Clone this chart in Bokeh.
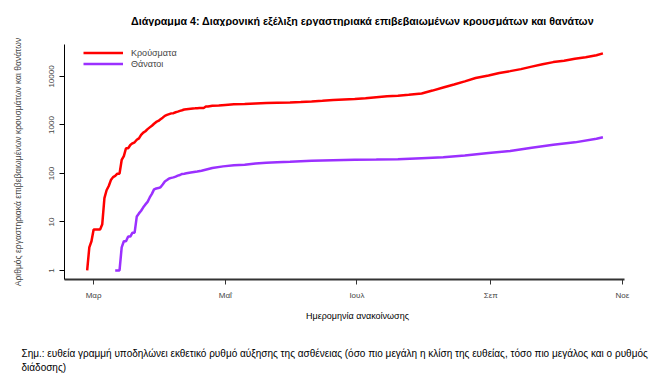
import pandas as pd
from bokeh.plotting import figure
from bokeh.layouts import column
from bokeh.models import Range1d, FixedTicker, Legend, LegendItem, Label
from bokeh.embed import file_html
from bokeh.resources import INLINE

# ---- data ----
case_dates = [
    "2020-02-27", "2020-02-28", "2020-02-29", "2020-03-01", "2020-03-02", "2020-03-03",
    "2020-03-04", "2020-03-05", "2020-03-06", "2020-03-07", "2020-03-08", "2020-03-09",
    "2020-03-10", "2020-03-11", "2020-03-12", "2020-03-13", "2020-03-14", "2020-03-15",
    "2020-03-16", "2020-03-17", "2020-03-18", "2020-03-19", "2020-03-20", "2020-03-21",
    "2020-03-22", "2020-03-23", "2020-03-24", "2020-03-25", "2020-03-26", "2020-03-27",
    "2020-03-28", "2020-03-29", "2020-03-30", "2020-03-31", "2020-04-01", "2020-04-02",
    "2020-04-03", "2020-04-04", "2020-04-05", "2020-04-06", "2020-04-07", "2020-04-08",
    "2020-04-09", "2020-04-10", "2020-04-11", "2020-04-12", "2020-04-13", "2020-04-14",
    "2020-04-15", "2020-04-16", "2020-04-17", "2020-04-18", "2020-04-19", "2020-04-21",
    "2020-04-22", "2020-04-23", "2020-04-25", "2020-04-28", "2020-05-01", "2020-05-05",
    "2020-05-10", "2020-05-15", "2020-05-20", "2020-05-25", "2020-05-31", "2020-06-05",
    "2020-06-10", "2020-06-15", "2020-06-20", "2020-06-25", "2020-06-30", "2020-07-05",
    "2020-07-10", "2020-07-15", "2020-07-20", "2020-07-25", "2020-07-31", "2020-08-05",
    "2020-08-10", "2020-08-15", "2020-08-20", "2020-08-25", "2020-08-31", "2020-09-05",
    "2020-09-10", "2020-09-15", "2020-09-20", "2020-09-25", "2020-09-30", "2020-10-05",
    "2020-10-10", "2020-10-15", "2020-10-20", "2020-10-23",
]
case_counts = [
    1, 3, 4, 7, 7, 7,
    7, 9, 31, 45, 55, 73,
    84, 89, 99, 99, 190, 228,
    331, 331, 387, 418, 440, 495,
    530, 624, 695, 743, 821, 892,
    966, 1061, 1156, 1212, 1314, 1415,
    1544, 1613, 1673, 1735, 1755, 1832,
    1884, 1955, 2011, 2081, 2114, 2145,
    2170, 2192, 2207, 2224, 2235, 2245,
    2401, 2408, 2490, 2534, 2591, 2663,
    2710, 2788, 2850, 2882, 2917, 2980,
    3058, 3148, 3256, 3343, 3432, 3562,
    3732, 3910, 4007, 4193, 4477, 5123,
    5942, 6858, 7943, 9280, 10500, 11800,
    12900, 14200, 16000, 17900, 19800, 21200,
    23300, 25000, 27500, 30000,
]

death_dates = [
    "2020-03-11", "2020-03-12", "2020-03-13", "2020-03-14", "2020-03-15", "2020-03-16",
    "2020-03-17", "2020-03-18", "2020-03-19", "2020-03-20", "2020-03-21", "2020-03-22",
    "2020-03-23", "2020-03-24", "2020-03-25", "2020-03-26", "2020-03-27", "2020-03-28",
    "2020-03-29", "2020-03-30", "2020-03-31", "2020-04-01", "2020-04-02", "2020-04-03",
    "2020-04-04", "2020-04-05", "2020-04-06", "2020-04-07", "2020-04-08", "2020-04-09",
    "2020-04-10", "2020-04-11", "2020-04-12", "2020-04-13", "2020-04-15", "2020-04-18",
    "2020-04-20", "2020-04-25", "2020-04-30", "2020-05-05", "2020-05-10", "2020-05-15",
    "2020-05-20", "2020-05-25", "2020-05-31", "2020-06-10", "2020-06-20", "2020-06-30",
    "2020-07-10", "2020-07-20", "2020-07-31", "2020-08-10", "2020-08-20", "2020-08-31",
    "2020-09-10", "2020-09-20", "2020-09-30", "2020-10-10", "2020-10-20", "2020-10-23",
]
death_counts = [
    1, 1, 1, 3, 4, 4,
    5, 5, 6, 6, 13, 15,
    17, 20, 23, 26, 32, 38,
    47, 49, 50, 52, 59, 68,
    73, 79, 81, 83, 86, 90,
    93, 98, 99, 101, 105, 110,
    114, 130, 140, 147, 151, 160,
    166, 171, 175, 183, 188, 192,
    193, 196, 206, 216, 235, 263,
    290, 339, 393, 438, 520, 560,
]

series_names = ["Κρούσματα", "Θάνατοι"]
month_ticks = ["2020-03-01", "2020-05-01", "2020-07-01", "2020-09-01", "2020-11-01"]
month_labels = ["Μαρ", "Μαΐ", "Ιουλ", "Σεπ", "Νοε"]
y_ticks = [1, 10, 100, 1000, 10000]
y_tick_labels = ["1", "10", "100", "1000", "10000"]

title_text = "Διάγραμμα 4: Διαχρονική εξέλιξη εργαστηριακά επιβεβαιωμένων κρουσμάτων και θανάτων"
y_label = "Αριθμός εργαστηριακά επιβεβαιωμένων κρουσμάτων και θανάτων"
x_label = "Ημερομηνία ανακοίνωσης"
note_1 = ("Σημ.: ευθεία γραμμή υποδηλώνει εκθετικό ρυθμό αύξησης της ασθένειας "
          "(όσο πιο μεγάλη η κλίση της ευθείας, τόσο πιο μεγάλος και ο ρυθμός")
note_2 = "διάδοσης)"

FONT = "Liberation Sans"
W = 662


def text_panel(height):
    f = figure(width=W, height=height, output_backend="svg", toolbar_location=None,
               x_axis_location=None, y_axis_location=None,
               min_border_left=0, min_border_right=0, min_border_top=0, min_border_bottom=0)
    f.frame_align = False
    f.grid.grid_line_color = None
    f.outline_line_color = None
    f.background_fill_color = "white"
    return f


# ---- title strip ----
top = text_panel(26)
top.add_layout(Label(x=362, y=6, x_units="screen", y_units="screen", text=title_text,
                     text_align="center", text_baseline="middle", text_font=FONT,
                     text_font_size="10.7px", text_font_style="bold", text_color="black"))

# ---- main chart ----
p = figure(
    width=W, height=279,
    x_axis_type="datetime", y_axis_type="log",
    x_range=Range1d(pd.Timestamp("2020-02-16 12:00"), pd.Timestamp("2020-11-02")),
    y_range=Range1d(0.65, 45700),
    output_backend="svg", toolbar_location=None,
    min_border_left=64, min_border_right=38, min_border_top=18, min_border_bottom=26,
)
p.frame_align = False
p.grid.grid_line_color = None
p.outline_line_color = None
p.background_fill_color = "white"

r_cases = p.line(pd.to_datetime(case_dates), case_counts, line_color="#ff0000", line_width=2.5)
r_deaths = p.line(pd.to_datetime(death_dates), death_counts, line_color="#9b30ff", line_width=2.5)

legend = Legend(
    items=[LegendItem(label=series_names[0], renderers=[r_cases]),
           LegendItem(label=series_names[1], renderers=[r_deaths])],
    location=(19, 210), border_line_color=None, background_fill_alpha=0,
    glyph_width=40, glyph_height=11, label_height=11, spacing=0, padding=2, margin=0,
    label_standoff=8, label_text_font_size="9px", label_text_font=FONT,
)
p.add_layout(legend)

tick_ms = [pd.Timestamp(d).value // 10**6 for d in month_ticks]
p.xaxis.ticker = FixedTicker(ticks=tick_ms)
p.xaxis.major_label_overrides = {t: l for t, l in zip(tick_ms, month_labels)}
p.xaxis.minor_tick_line_color = None
p.xaxis.major_tick_out = 5
p.xaxis.major_tick_in = 0
p.xaxis.axis_line_width = 2
p.xaxis.axis_line_color = "#333333"
p.xaxis.major_tick_line_color = "#333333"
p.xaxis.major_label_text_font_size = "8px"
p.xaxis.major_label_text_font = FONT
p.xaxis.major_label_standoff = 6

p.yaxis.ticker = FixedTicker(ticks=y_ticks)
p.yaxis.major_label_overrides = {t: l for t, l in zip(y_ticks, y_tick_labels)}
p.yaxis.minor_tick_line_color = None
p.yaxis.major_tick_out = 5
p.yaxis.major_tick_in = 0
p.yaxis.axis_line_color = "black"
p.yaxis.major_label_orientation = "vertical"
p.yaxis.major_label_text_font_size = "8px"
p.yaxis.major_label_text_font = FONT
p.yaxis.major_label_standoff = 5
p.yaxis.axis_label = y_label
p.yaxis.axis_label_text_font_size = "8.5px"
p.yaxis.axis_label_text_font_style = "normal"
p.yaxis.axis_label_text_font = FONT
p.yaxis.axis_label_standoff = 24

# ---- bottom strip: x label and note ----
bottom = text_panel(76)
bottom.add_layout(Label(x=357, y=66, x_units="screen", y_units="screen", text=x_label,
                        text_align="center", text_baseline="middle", text_font=FONT,
                        text_font_size="9px", text_color="black"))
bottom.add_layout(Label(x=21, y=28, x_units="screen", y_units="screen", text=note_1,
                        text_align="left", text_baseline="middle", text_font=FONT,
                        text_font_size="10px", text_color="black"))
bottom.add_layout(Label(x=21, y=14, x_units="screen", y_units="screen", text=note_2,
                        text_align="left", text_baseline="middle", text_font=FONT,
                        text_font_size="10px", text_color="black"))

layout = column(top, p, bottom, spacing=0)
open("out.html", "w").write(file_html(layout, INLINE))
